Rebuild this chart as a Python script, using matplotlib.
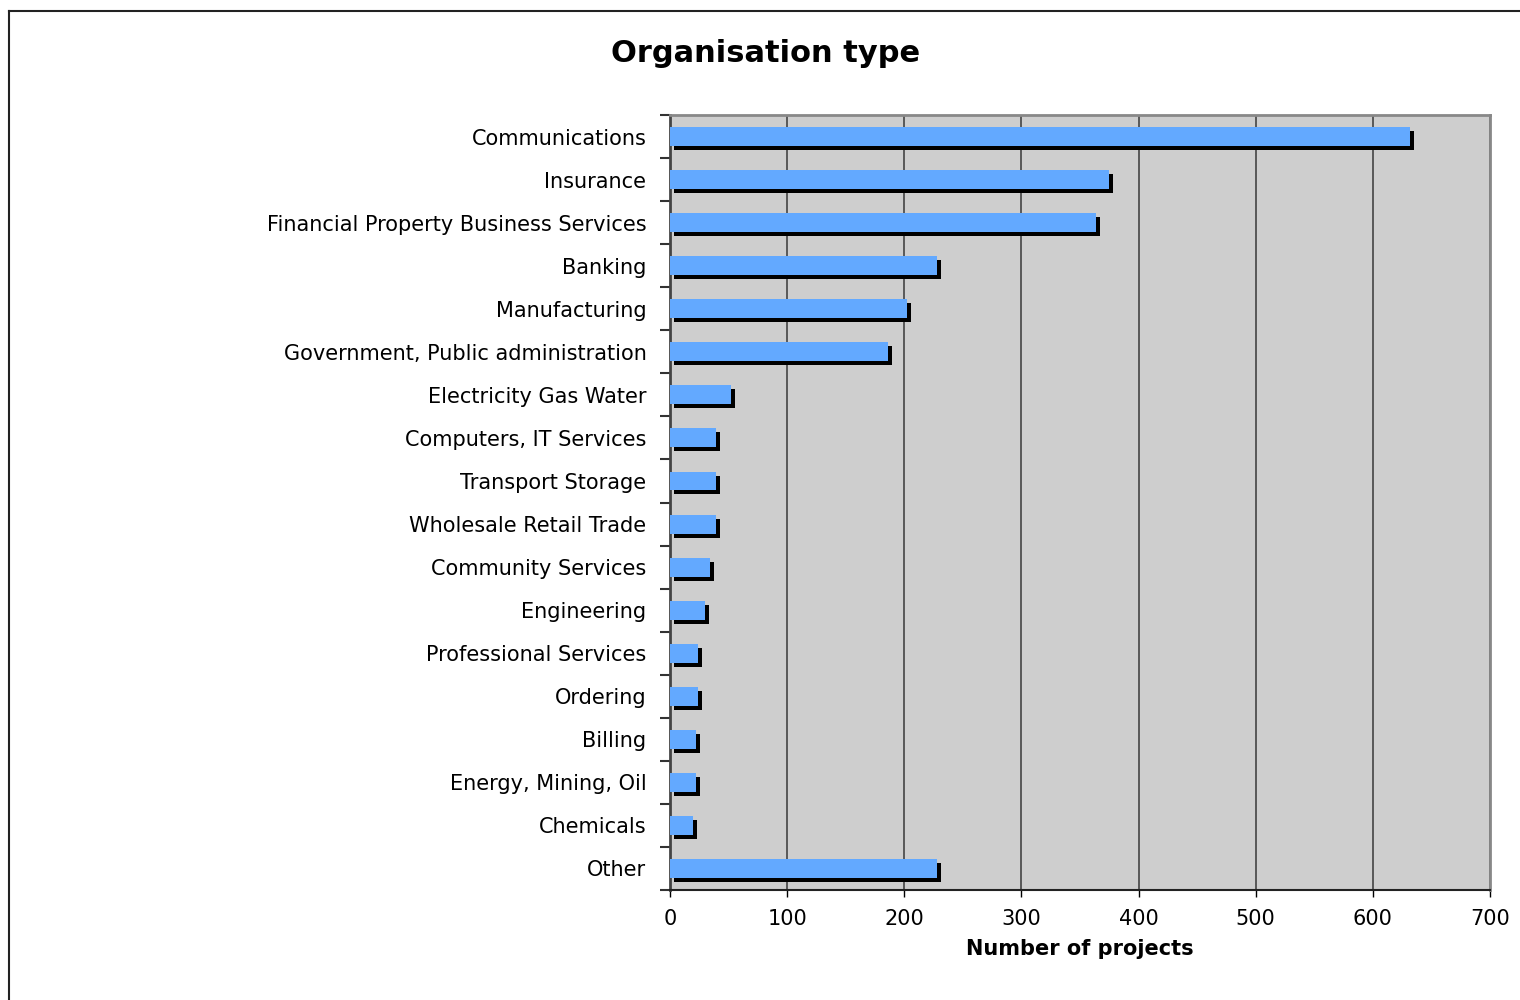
import matplotlib
matplotlib.use("Agg")
import matplotlib.pyplot as plt
from matplotlib.transforms import ScaledTranslation
from matplotlib.lines import Line2D

categories = ["Communications", "Insurance", "Financial Property Business Services",
              "Banking", "Manufacturing", "Government, Public administration",
              "Electricity Gas Water", "Computers, IT Services", "Transport Storage",
              "Wholesale Retail Trade", "Community Services", "Engineering",
              "Professional Services", "Ordering", "Billing", "Energy, Mining, Oil",
              "Chemicals", "Other"]
projects = [632, 375, 364, 228, 202, 186, 52, 39, 39, 39, 34, 30, 24, 24, 22, 22, 20, 228]
x_ticks = [0, 100, 200, 300, 400, 500, 600, 700]

plt.rcParams['font.family'] = ['DejaVu Sans']

fig = plt.figure(figsize=(15.2, 10), dpi=100)
ax = fig.add_axes([670/1520, 110/1000, 820/1520, 775/1000])
ax.set_facecolor('#cecece')

pos = list(range(len(categories)))
shadow = ax.transData + ScaledTranslation(4/100, -4/100, fig.dpi_scale_trans)
ax.barh(pos, projects, height=0.44, color='black', transform=shadow, zorder=2)
ax.barh(pos, projects, height=0.44, color='#63a9ff', zorder=3)

ax.set_xlim(0, 700)
ax.set_ylim(len(categories) - 0.5, -0.5)
ax.set_xticks(x_ticks)
ax.set_xticklabels([str(t) for t in x_ticks], fontsize=15)
ax.set_yticks(pos)
ax.set_yticklabels(categories, fontsize=15)
ax.set_yticks([p + 0.5 for p in range(-1, len(categories))], minor=True)
ax.tick_params(axis='y', which='major', length=0, pad=17)
ax.tick_params(axis='y', which='minor', length=7, width=1.5, color='#333333')
ax.tick_params(axis='x', which='major', length=5, width=1, direction='out', pad=9)
ax.grid(axis='x', color='#444444', linewidth=1.2, zorder=1)
ax.set_axisbelow(True)

for s in ['top', 'right']:
    ax.spines[s].set_color('#888888')
    ax.spines[s].set_linewidth(2)
ax.spines['left'].set_color('#444444')
ax.spines['left'].set_linewidth(2)
ax.spines['bottom'].set_color('#222222')
ax.spines['bottom'].set_linewidth(1.5)

ax.set_xlabel("Number of projects", fontsize=15, fontweight='bold', labelpad=7)
fig.text(766/1520, 1 - 54/1000, "Organisation type", fontsize=22, fontweight='bold',
         ha='center', va='center')

fig.add_artist(Line2D([8.5/1520, 8.5/1520], [0, 1 - 10.5/1000], transform=fig.transFigure,
                      color='#222222', linewidth=1.5))
fig.add_artist(Line2D([8.5/1520, 1], [1 - 10.5/1000, 1 - 10.5/1000], transform=fig.transFigure,
                      color='#222222', linewidth=1.5))

fig.savefig("out.png", dpi=100)
